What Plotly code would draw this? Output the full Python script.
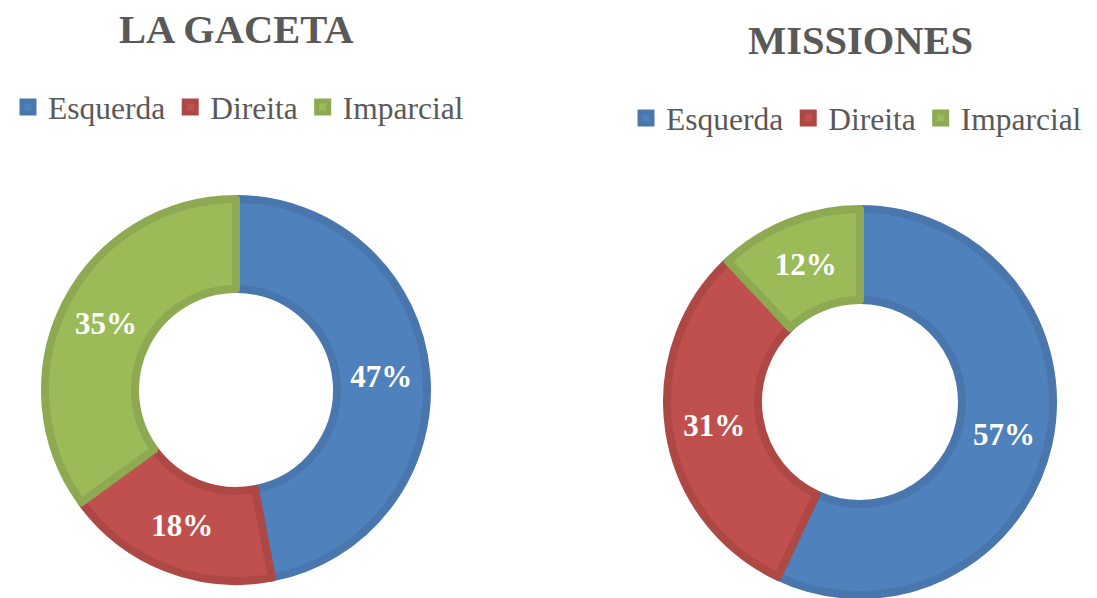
import plotly.graph_objects as go

labels = ["Esquerda", "Direita", "Imparcial"]
la_gaceta = [47, 18, 35]
missiones = [57, 31, 12]
titles = ["LA GACETA", "MISSIONES"]

fill_colors = ["#4F81BD", "#C0504D", "#9BBB59"]
line_colors = ["#4A76AE", "#AE4845", "#8DAA52"]
FONT = "Liberation Serif, Times New Roman, serif"
OFF = 8                      # default page body margin
W, H = 1097 - OFF, 598 - OFF
LW = 8

def fx(sx):
    return (sx - OFF) / W

def fy(sy):
    return 1 - (sy - OFF) / H

def domain(cx, cy, r):
    r = r - LW / 2
    cx, cy = cx - OFF, cy - OFF
    return dict(x=[max(0, (cx - r) / W), min(1, (cx + r) / W)],
                y=[max(0, (H - cy - r) / H), min(1, (H - cy + r) / H)])

fig = go.Figure()
specs = [
    (la_gaceta, (236, 390, 195), 97, "legend", "g1"),
    (missiones, (860, 402, 197), 98, "legend2", "g2"),
]
for vals, (cx, cy, r), rin, leg, grp in specs:
    rr = r - LW / 2
    fig.add_trace(go.Pie(
        labels=labels, values=vals, sort=False, direction="clockwise", rotation=0,
        hole=(rin + LW / 2) / rr,
        domain=domain(cx, cy, r),
        marker=dict(colors=fill_colors, line=dict(color=line_colors, width=LW)),
        texttemplate="%{percent:.0%}", textposition="inside",
        insidetextorientation="horizontal",
        textfont=dict(family=FONT, size=31, color="white", weight="bold"),
        hoverinfo="label+percent", legend=leg, legendgroup=grp,
    ))

title_pos = [(236, 30), (860, 40)]
for t, (x, y) in zip(titles, title_pos):
    fig.add_annotation(text=t, x=fx(x), y=fy(y), xref="paper", yref="paper",
                       xanchor="center", yanchor="middle", showarrow=False,
                       font=dict(family=FONT, size=40.5, color="#595959", weight="bold"))

legfont = dict(family=FONT, size=31.5, color="#595959")
fig.update_layout(
    width=W, height=H,
    margin=dict(l=0, r=0, t=0, b=0),
    paper_bgcolor="white", plot_bgcolor="white",
    showlegend=True,
    legend=dict(orientation="h", x=0, xanchor="left", y=fy(107), yanchor="middle",
                traceorder="normal", font=legfont, bgcolor="rgba(0,0,0,0)", borderwidth=0),
    legend2=dict(orientation="h", x=fx(626), xanchor="left", y=fy(118), yanchor="middle",
                 traceorder="normal", font=legfont, bgcolor="rgba(0,0,0,0)", borderwidth=0),
)

fig.write_html("out.html")
